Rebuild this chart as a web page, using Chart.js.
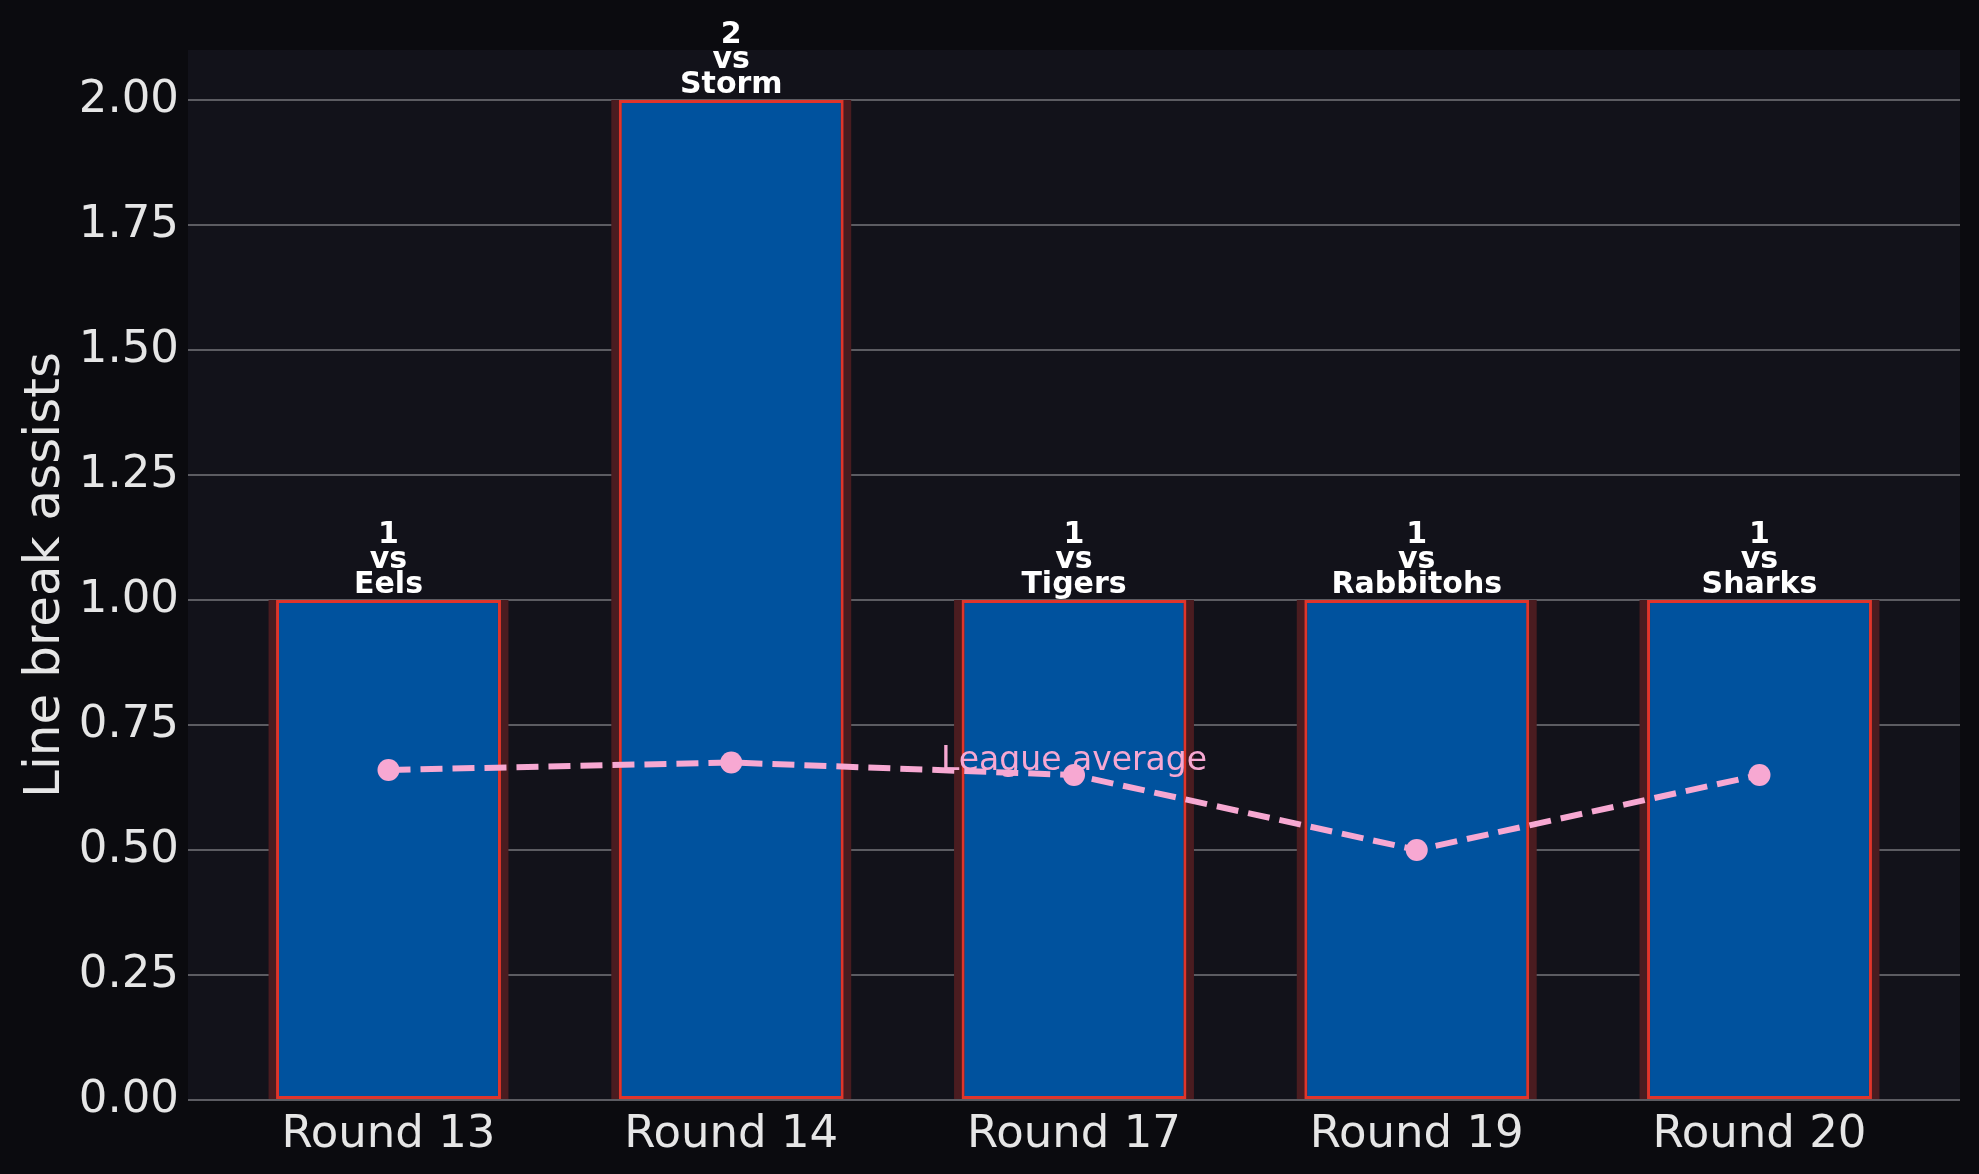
<!doctype html>
<html lang="en">
<head>
  <meta charset="utf-8">
  <style>
    * { margin: 0; padding: 0; }
    body { background: #0b0b0f; }
    .chartBox { width: 1979px; height: 1174px; }
  </style>
</head>
<body>
<div class="chartBox">
  <canvas id="myChart" width="1979" height="1174"></canvas>
</div>
<script src="https://cdn.jsdelivr.net/npm/chart.js"></script>
<script>
  // data
  const rounds = ['Round 13', 'Round 14', 'Round 17', 'Round 19', 'Round 20']
  const opponents = ['Eels', 'Storm', 'Tigers', 'Rabbitohs', 'Sharks']
  const assists = [1, 2, 1, 1, 1]
  const leagueAvg = [0.66, 0.675, 0.65, 0.5, 0.65]
  const yTicks = [0, 0.25, 0.5, 0.75, 1, 1.25, 1.5, 1.75, 2]

  const font = "'DejaVu Sans', sans-serif"
  const pink = '#f7a8d2'

  // plot panel background + bar labels + line label
  const extras = {
    id: 'extras',
    beforeDraw(chart) {
      const { ctx, chartArea: a } = chart
      ctx.save()
      ctx.fillStyle = '#12121a'
      ctx.fillRect(a.left, a.top, a.right - a.left, a.bottom - a.top)
      ctx.restore()
    },
    afterDraw(chart) {
      const { ctx, scales: { x, y } } = chart
      ctx.save()
      ctx.textAlign = 'center'
      ctx.textBaseline = 'alphabetic'
      ctx.fillStyle = '#ffffff'
      ctx.font = 'bold 30px ' + font
      assists.forEach((v, i) => {
        const px = x.getPixelForValue(i)
        const py = y.getPixelForValue(v) - 7
        const lines = [String(v), 'vs', opponents[i]]
        lines.forEach((t, k) => {
          ctx.fillText(t, px, py - (lines.length - 1 - k) * 25)
        })
      })
      // label above the third league average point
      ctx.fillStyle = pink
      ctx.font = '33px ' + font
      ctx.fillText('League average', x.getPixelForValue(2), y.getPixelForValue(leagueAvg[2]) - 5)
      ctx.restore()
    }
  }

  const data = {
    datasets: [{
      type: 'line',
      label: 'League average',
      data: leagueAvg.map((v, i) => ({ x: i, y: v })),
      borderColor: pink,
      backgroundColor: pink,
      borderWidth: 6,
      borderDash: [22, 10],
      pointRadius: 11,
      pointBorderWidth: 0,
      tension: 0,
      order: 0
    }, {
      type: 'bar',
      label: 'Line break assists',
      data: assists.map((v, i) => ({ x: i, y: v })),
      backgroundColor: '#00529e',
      borderColor: '#e0352b',
      borderWidth: 3,
      borderSkipped: false,
      grouped: false,
      categoryPercentage: 1,
      barPercentage: 0.656,
      order: 1
    }, {
      type: 'bar',
      label: 'glow',
      data: assists.map((v, i) => ({ x: i, y: v })),
      backgroundColor: '#4a1c20',
      borderWidth: 0,
      grouped: false,
      categoryPercentage: 1,
      barPercentage: 0.70,
      order: 2
    }]
  }

  const config = {
    type: 'bar',
    data,
    options: {
      responsive: false,
      devicePixelRatio: 1,
      animation: false,
      layout: { padding: { left: 0, top: 50, right: 19, bottom: 0 } },
      plugins: { legend: { display: false }, tooltip: { enabled: false } },
      scales: {
        x: {
          type: 'linear',
          offset: false,
          min: -0.585,
          max: 4.585,
          afterBuildTicks: s => { s.ticks = rounds.map((_, i) => ({ value: i })) },
          afterFit: s => { s.height = 74 },
          grid: { display: false },
          border: { display: false },
          ticks: {
            callback: v => rounds[v],
            color: '#e6e6e6',
            font: { family: font, size: 45 },
            padding: 0,
            maxRotation: 0,
            autoSkip: false
          }
        },
        y: {
          min: 0,
          max: 2.1,
          afterBuildTicks: s => { s.ticks = yTicks.map(v => ({ value: v })) },
          afterFit: s => { s.width = 188 },
          grid: { color: '#5c5c62', lineWidth: 2, drawTicks: false },
          border: { display: false },
          ticks: {
            callback: v => v.toFixed(2),
            color: '#e6e6e6',
            font: { family: font, size: 45 },
            padding: 9
          },
          title: {
            display: true,
            text: 'Line break assists',
            color: '#e6e6e6',
            font: { family: font, size: 50 },
            padding: { top: 16 }
          }
        }
      }
    },
    plugins: [extras]
  }

  const myChart = new Chart(document.getElementById('myChart'), config)
</script>
</body>
</html>
